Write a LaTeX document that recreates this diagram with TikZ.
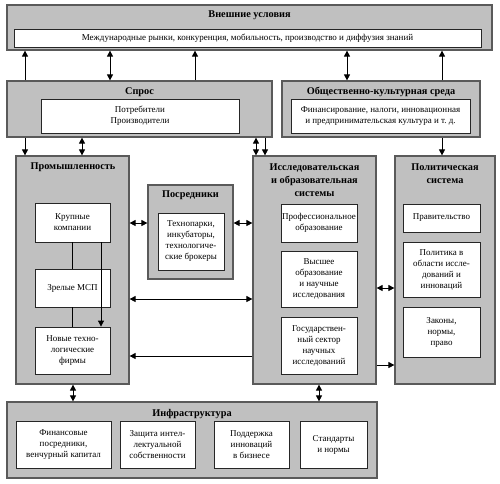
\documentclass[tikz,border=0pt]{standalone}
\usepackage{fontspec}
\setmainfont{Liberation Serif}
\usetikzlibrary{arrows.meta}

\definecolor{boxgray}{RGB}{192,192,192}
\definecolor{edgegray}{RGB}{90,90,90}

\tikzset{
  graybox/.style={draw=edgegray,line width=1.2pt,fill=boxgray,inner sep=0pt},
  whitebox/.style={draw=black!85,line width=0.8pt,fill=white,inner sep=1pt,align=center,
    font=\fontsize{9}{11}\selectfont},
  boxtitle/.style={font=\fontsize{10.3}{13}\selectfont\bfseries,align=center,inner sep=0pt},
  conn/.style={line width=0.8pt}
}

\begin{document}
\begin{tikzpicture}[x=1pt,y=-1pt,>={Triangle[length=6pt,width=6pt]}]
		\useasboundingbox (0,0) rectangle (500,483);
		% frames
		\node[graybox,minimum width=485pt,minimum height=45pt] (ext) at (249.5,27.5) {};
		\node[graybox,minimum width=265pt,minimum height=56pt] (spros) at (139.5,109) {};
		\node[graybox,minimum width=198pt,minimum height=56pt] (soc) at (381,109) {};
		\node[graybox,minimum width=113pt,minimum height=228pt] (prom) at (72.5,270) {};
		\node[graybox,minimum width=85pt,minimum height=94pt] (posr) at (190.5,232) {};
		\node[graybox,minimum width=123pt,minimum height=228pt] (res) at (314.5,270) {};
		\node[graybox,minimum width=100pt,minimum height=228pt] (pol) at (445,270) {};
		\node[graybox,minimum width=370pt,minimum height=76pt] (infra) at (192,440) {};
		% titles
		\node[boxtitle] (extT) at (249.5,15) {Внешние условия};
		\node[boxtitle] (sprosT) at (139.5,92) {Спрос};
		\node[boxtitle] (socT) at (381,92) {Общественно-культурная среда};
		\node[boxtitle] (promT) at (73,167) {Промышленность};
		\node[boxtitle] (posrT) at (190.5,195) {Посредники};
		\node[boxtitle] (resT) at (314.5,180) {Исследовательская\\и образовательная\\системы};
		\node[boxtitle] (polT) at (445,173.5) {Политическая\\система};
		\node[boxtitle] (infraT) at (192,414) {Инфраструктура};
		% inner boxes
		\node[whitebox,minimum width=467pt,minimum height=18pt] (extIn) at (247.5,38) {Международные рынки, конкуренция, мобильность, производство и диффузия знаний};
		\node[whitebox,minimum width=198pt,minimum height=34pt] (sprosIn) at (140,116) {Потребители\\Производители};
		\node[whitebox,minimum width=179pt,minimum height=34pt] (socIn) at (380.5,116) {Финансирование, налоги, инновационная\\и предпринимательская культура и т.~д.};
		\node[whitebox,minimum width=75pt,minimum height=39pt] (big) at (72.5,222.5) {Крупные\\компании};
		\node[whitebox,minimum width=75pt,minimum height=38pt] (msp) at (72.5,288) {Зрелые МСП};
		\node[whitebox,minimum width=75pt,minimum height=47pt] (newf) at (72.5,350.5) {Новые техно-\\логические\\фирмы};
		\node[whitebox,minimum width=66pt,minimum height=57pt] (posrIn) at (191,241.5) {Технопарки,\\инкубаторы,\\технологиче-\\ские брокеры};
		\node[whitebox,minimum width=76pt,minimum height=38pt] (prof) at (319,223) {Профессиональное\\образование};
		\node[whitebox,minimum width=76pt,minimum height=56pt] (high) at (319,279) {Высшее\\образование\\и научные\\исследования};
		\node[whitebox,minimum width=76pt,minimum height=57pt] (gov) at (319,345.5) {Государствен-\\ный сектор\\научных\\исследований};
		\node[whitebox,minimum width=77pt,minimum height=28pt] (govt) at (441.5,218) {Правительство};
		\node[whitebox,minimum width=77pt,minimum height=55pt] (polit) at (441.5,269.5) {Политика в\\области иссле-\\дований и\\инноваций};
		\node[whitebox,minimum width=77pt,minimum height=50pt] (laws) at (441.5,332) {Законы,\\нормы,\\право};
		\node[whitebox,minimum width=95pt,minimum height=47pt] (fin) at (63.5,444.5) {Финансовые\\посредники,\\венчурный капитал};
		\node[whitebox,minimum width=75pt,minimum height=47pt] (ip) at (157.5,444.5) {Защита интел-\\лектуальной\\собственности};
		\node[whitebox,minimum width=75pt,minimum height=47pt] (supp) at (251.5,444.5) {Поддержка\\инноваций\\в бизнесе};
		\node[whitebox,minimum width=67pt,minimum height=47pt] (std) at (333.5,444.5) {Стандарты\\и нормы};
		% connectors: top
		\draw[->,conn] (spros.north -| 25,0) -- (ext.south -| 25,0);
		\draw[<->,conn] (spros.north -| 110,0) -- (ext.south -| 110,0);
		\draw[->,conn] (spros.north -| 195,0) -- (ext.south -| 195,0);
		\draw[<->,conn] (soc.north -| 347,0) -- (ext.south -| 347,0);
		\draw[->,conn] (soc.north -| 442,0) -- (ext.south -| 442,0);
		% connectors: middle
		\draw[->,conn] (spros.south -| 25,0) -- (prom.north -| 25,0);
		\draw[<->,conn] (spros.south -| 82,0) -- (prom.north -| 82,0);
		\draw[<->,conn] (spros.south -| 256,0) -- (res.north -| 256,0);
		\draw[->,conn] (spros.south -| 265,0) -- (res.north -| 265,0);
		\draw[->,conn] (soc.south -| 442,0) -- (pol.north -| 442,0);
		\draw[<->,conn] (prom.east |- 0,223) -- (posr.west |- 0,223);
		\draw[<->,conn] (posr.east |- 0,223) -- (res.west |- 0,223);
		\draw[<->,conn] (prom.east |- 0,299) -- (res.west |- 0,299);
		\draw[->,conn] (res.west |- 0,356) -- (prom.east |- 0,356);
		\draw[<->,conn] (res.east |- 0,288) -- (pol.west |- 0,288);
		\draw[->,conn] (res.east |- 0,365) -- (pol.west |- 0,365);
		\draw[conn] (big.south) -- (msp.north);
		\draw[conn] (msp.south) -- (newf.north);
		\draw[->,conn] (big.south -| 101,0) -- (newf.north -| 101,0);
		% connectors: bottom
		\draw[<->,conn] (prom.south -| 73,0) -- (infra.north -| 73,0);
		\draw[<->,conn] (res.south -| 319,0) -- (infra.north -| 319,0);
	\end{tikzpicture}
\end{document}
